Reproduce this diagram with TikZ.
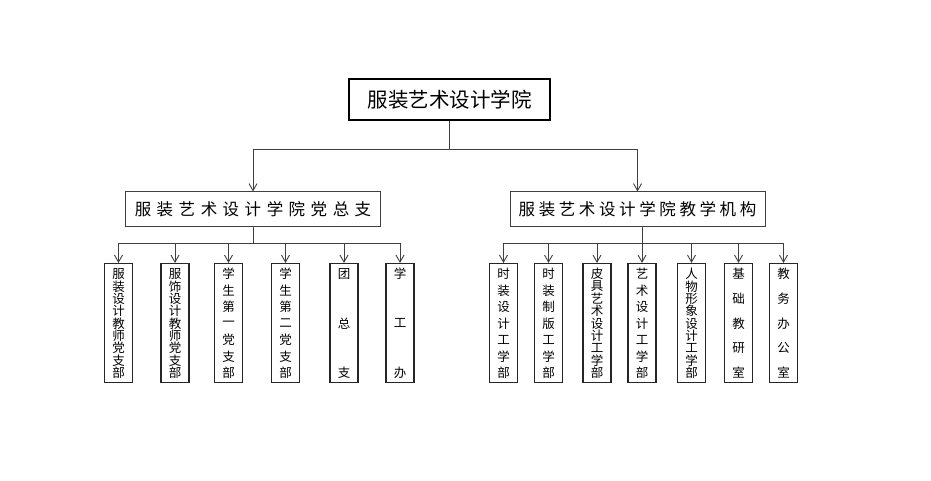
\documentclass[tikz,border=0pt]{standalone}
\usepackage{fontspec}
\setmainfont{Noto Sans CJK SC}
\usetikzlibrary{arrows.meta,calc}
\newcommand\lspa{\kern5.5pt}
\newcommand\lspb{\kern3.6pt}
\newcommand\vchars[2]{%
  \foreach \c [count=\i] in {#2} {\xdef\vcount{\i}}%
  \pgfmathsetmacro\vpitch{99/(\vcount-1)}%
  \foreach \c [count=\i] in {#2} {\node[chr] at ($(#1.north)+(0,{11+(\i-1)*\vpitch})$) {\c};}%
}
\begin{document}
\begin{tikzpicture}[x=1pt,y=-1pt,
  line/.style={draw=black!75, line width=0.9pt},
  arr/.style={line, -{Straight Barb[length=7pt,width=8pt,line width=0.9pt]}},
  topbox/.style={draw=black, line width=2.4pt, minimum width=200.6pt, minimum height=40.6pt, inner sep=0pt, font=\fontsize{20.5}{24}\selectfont},
  midbox/.style={draw=black!75, line width=1pt, minimum width=255pt, minimum height=34pt, inner sep=0pt, font=\fontsize{16.5}{20}\selectfont},
  leaf/.style={draw=black!85, line width=1.1pt, minimum width=28pt, minimum height=119pt, inner sep=0pt},
  chr/.style={inner sep=0pt, font=\fontsize{12.5}{14}\selectfont},
]
\useasboundingbox (0,0) rectangle (931,481);

\node[topbox] (top) at (449.5,99.5) {服装艺术设计学院};
\node[midbox] (ml) at (253,209) {服\lspa 装\lspa 艺\lspa 术\lspa 设\lspa 计\lspa 学\lspa 院\lspa 党\lspa 总\lspa 支};
\node[midbox] (mr) at (637.5,209) {服\lspb 装\lspb 艺\lspb 术\lspb 设\lspb 计\lspb 学\lspb 院\lspb 教\lspb 学\lspb 机\lspb 构};

\node[leaf] (L1) at (118.5,323) {};
\node[leaf] (L2) at (175,323) {};
\node[leaf] (L3) at (228.5,323) {};
\node[leaf] (L4) at (285.5,323) {};
\node[leaf] (L5) at (344,323) {};
\node[leaf] (L6) at (400,323) {};

\node[leaf] (R1) at (503.5,323) {};
\node[leaf] (R2) at (548.5,323) {};
\node[leaf] (R3) at (597,323) {};
\node[leaf] (R4) at (642,323) {};
\node[leaf] (R5) at (691.5,323) {};
\node[leaf] (R6) at (738.5,323) {};
\node[leaf] (R7) at (783.5,323) {};

\vchars{L1}{服,装,设,计,教,师,党,支,部}
\vchars{L2}{服,饰,设,计,教,师,党,支,部}
\vchars{L3}{学,生,第,一,党,支,部}
\vchars{L4}{学,生,第,二,党,支,部}
\vchars{L5}{团,总,支}
\vchars{L6}{学,工,办}
\vchars{R1}{时,装,设,计,工,学,部}
\vchars{R2}{时,装,制,版,工,学,部}
\vchars{R3}{皮,具,艺,术,设,计,工,学,部}
\vchars{R4}{艺,术,设,计,工,学,部}
\vchars{R5}{人,物,形,象,设,计,工,学,部}
\vchars{R6}{基,础,教,研,室}
\vchars{R7}{教,务,办,公,室}

% connectors
\coordinate (tb) at (449.5,149);
\draw[line] (top.south) -- (tb);
\draw[arr] (tb) -| (ml.north);
\draw[arr] (tb) -| (mr.north);

\coordinate (lb) at (253,243);
\draw[line] (ml.south) -- (lb);
\foreach \n in {L1,L2,L3,L4,L5,L6} {\draw[arr] (lb) -| (\n.north);}

\coordinate (rb) at (642,243);
\draw[line] (R4.north |- mr.south) -- (rb);
\foreach \n in {R1,R2,R3,R4,R5,R6,R7} {\draw[arr] (rb) -| (\n.north);}
\end{tikzpicture}
\end{document}
